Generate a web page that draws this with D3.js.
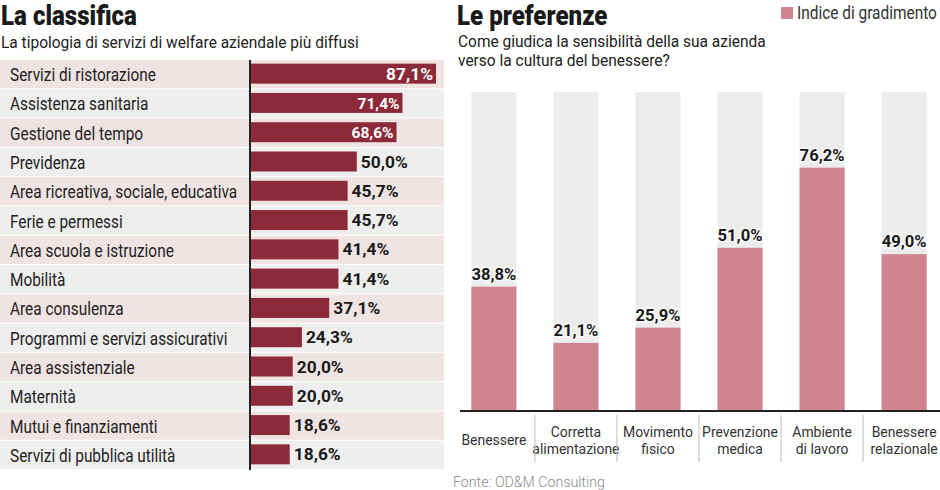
<!DOCTYPE html>
<html>
<head>
<meta charset="utf-8">
<script src="https://cdn.jsdelivr.net/npm/d3@7"></script>
<style>
  html, body { margin: 0; padding: 0; background: #ffffff; }
  svg { display: block; }
  text { font-family: 'Roboto', 'Liberation Sans', sans-serif; }
</style>
</head>
<body>
<svg id="chart" width="940" height="490"></svg>
<script>
// ---------- Data ----------
const classificaCategories = [
  "Servizi di ristorazione",
  "Assistenza sanitaria",
  "Gestione del tempo",
  "Previdenza",
  "Area ricreativa, sociale, educativa",
  "Ferie e permessi",
  "Area scuola e istruzione",
  "Mobilità",
  "Area consulenza",
  "Programmi e servizi assicurativi",
  "Area assistenziale",
  "Maternità",
  "Mutui e finanziamenti",
  "Servizi di pubblica utilità"
];
const classificaValues = [87.1, 71.4, 68.6, 50.0, 45.7, 45.7, 41.4, 41.4, 37.1, 24.3, 20.0, 20.0, 18.6, 18.6];

const preferenzeCategories = [
  ["Benessere"],
  ["Corretta", "alimentazione"],
  ["Movimento", "fisico"],
  ["Prevenzione", "medica"],
  ["Ambiente", "di lavoro"],
  ["Benessere", "relazionale"]
];
const preferenzeValues = [38.8, 21.1, 25.9, 51.0, 76.2, 49.0];
const preferenzeMax = 100;

const legendLabel = "Indice di gradimento";

// ---------- Setup ----------
const svg = d3.select("#chart");
const it = d3.formatLocale({ decimal: ",", thousands: ".", grouping: [3], currency: ["€", ""] });
const fmt = v => it.format(".1f")(v) + "%";

// measure a sample string in a given style and return horizontal condensing factor
function calib(sample, size, weight, target) {
  const t = svg.append("text").style("font-size", size + "px").style("font-weight", weight).text(sample);
  const w = t.node().getComputedTextLength();
  t.remove();
  return target / w;
}
const S = {
  title:  { size: 28,   weight: 900, k: 0 },
  sub:    { size: 17,   weight: 400, k: 0 },
  row:    { size: 18,   weight: 400, k: 0 },
  num:    { size: 17,   weight: 700, k: 0 },
  numSm:  { size: 15.5, weight: 700, k: 0 },
  numR:   { size: 16.5, weight: 700, k: 0 },
  cat:    { size: 15.5, weight: 400, k: 0 },
  legend: { size: 18,   weight: 400, k: 0 },
  src:    { size: 15,   weight: 300, k: 0 }
};
S.title.k  = calib("La classifica", S.title.size, S.title.weight, 136);
S.sub.k    = calib("Come giudica la sensibilità della sua azienda", S.sub.size, S.sub.weight, 308);
S.row.k    = calib("Servizi di ristorazione", S.row.size, S.row.weight, 146);
S.num.k    = calib("50,0%", S.num.size, S.num.weight, 47);
S.numSm.k  = calib("71,4%", S.numSm.size, S.numSm.weight, 42);
S.numR.k   = calib("38,8%", S.numR.size, S.numR.weight, 45);
S.cat.k    = calib("Benessere", S.cat.size, S.cat.weight, 65);
S.legend.k = calib(legendLabel, S.legend.size, S.legend.weight, 140);
S.src.k    = calib("Fonte: OD&M Consulting", S.src.size, S.src.weight, 152);

function txt(parent, x, y, str, st, fill, anchor) {
  return parent.append("text")
    .attr("transform", `translate(${x},${y}) scale(${st.k},1)`)
    .attr("text-anchor", anchor || "start")
    .style("font-size", st.size + "px")
    .style("font-weight", st.weight)
    .attr("fill", fill)
    .text(str);
}

// ---------- Left: La classifica ----------
const left = svg.append("g");
txt(left, 1, 25, "La classifica", S.title, "#1a1a1a");
txt(left, 1, 48, "La tipologia di servizi di welfare aziendale più diffusi", S.sub, "#222");

const yRow = d3.scaleBand().domain(classificaCategories).range([60, 470]).padding(0);
const xL = d3.scaleLinear().domain([0, 100]).range([250, 250 + 213.6]);
const rowData = classificaCategories.map((c, i) => ({ c, v: classificaValues[i], i }));

const rows = left.selectAll("g.row").data(rowData).join("g").attr("class", "row");

rows.append("rect")
  .attr("x", 0).attr("width", 444)
  .attr("y", d => yRow(d.c)).attr("height", yRow.bandwidth() - 1)
  .attr("fill", d => d.i % 2 === 0 ? "#efe4e2" : "#efeeee");

rows.each(function (d) {
  txt(d3.select(this), 10, yRow(d.c) + yRow.bandwidth() / 2 + 6.5, d.c, S.row, "#222");
});

const barH = 20;
rows.append("rect")
  .attr("x", xL(0))
  .attr("y", d => yRow(d.c) + yRow.bandwidth() / 2 - barH / 2 - 1)
  .attr("height", barH)
  .attr("width", d => xL(d.v) - xL(0))
  .attr("fill", "#8d2a3a");

rows.each(function (d) {
  const inside = d.v > 60;
  const st = inside && d.i > 0 ? S.numSm : S.num;
  txt(d3.select(this), inside ? xL(d.v) - 3 : xL(d.v) + 4,
      yRow(d.c) + yRow.bandwidth() / 2 + 5, fmt(d.v), st,
      inside ? "#ffffff" : "#1a1a1a", inside ? "end" : "start");
});

left.append("line")
  .attr("x1", xL(0)).attr("x2", xL(0))
  .attr("y1", 60).attr("y2", 470)
  .attr("stroke", "#222").attr("stroke-width", 2);

// ---------- Right: Le preferenze ----------
const right = svg.append("g");
txt(right, 457, 25, "Le preferenze", S.title, "#1a1a1a");
txt(right, 458, 47, "Come giudica la sensibilità della sua azienda", S.sub, "#222");
txt(right, 458, 66, "verso la cultura del benessere?", S.sub, "#222");

// legend
right.append("rect").attr("x", 781).attr("y", 7).attr("width", 12).attr("height", 12).attr("fill", "#d0848f");
txt(right, 797, 19, legendLabel, S.legend, "#333");

const catKeys = preferenzeCategories.map(d => d.join(" "));
const xR = d3.scaleBand().domain(catKeys).range([459, 939]).paddingInner(0.45).paddingOuter(0.15);
const yR = d3.scaleLinear().domain([0, preferenzeMax]).range([410, 92]);
const colData = preferenzeCategories.map((c, i) => ({ c, k: catKeys[i], v: preferenzeValues[i], i }));

const cols = right.selectAll("g.col").data(colData).join("g").attr("class", "col");

cols.append("rect")
  .attr("x", d => xR(d.k)).attr("width", xR.bandwidth())
  .attr("y", yR(preferenzeMax)).attr("height", yR(0) - yR(preferenzeMax))
  .attr("fill", "#ececec");

cols.append("rect")
  .attr("x", d => xR(d.k)).attr("width", xR.bandwidth())
  .attr("y", d => yR(d.v)).attr("height", d => yR(0) - yR(d.v))
  .attr("fill", "#d0848f");

cols.each(function (d) {
  const g = d3.select(this);
  const cx = xR(d.k) + xR.bandwidth() / 2;
  txt(g, cx, yR(d.v) - 7, fmt(d.v), S.numR, "#1a1a1a", "middle")
    .attr("stroke", "#ffffff").attr("stroke-width", 3).attr("stroke-opacity", 0.8)
    .style("paint-order", "stroke");
  const baseY = d.c.length === 1 ? [445] : [436.5, 454];
  d.c.forEach((t, j) => txt(g, cx, baseY[j], t, S.cat, "#333", "middle"));
});

// separators between category labels
catKeys.slice(1).forEach((k) => {
  const sx = xR(k) - (xR.step() - xR.bandwidth()) / 2;
  right.append("line")
    .attr("x1", sx).attr("x2", sx)
    .attr("y1", 415).attr("y2", 462)
    .attr("stroke", "#bdbdbd").attr("stroke-width", 1);
});

// baseline
right.append("line")
  .attr("x1", 460).attr("x2", 940)
  .attr("y1", yR(0) + 1).attr("y2", yR(0) + 1)
  .attr("stroke", "#222").attr("stroke-width", 2);

// source
txt(svg, 453, 487, "Fonte: OD&M Consulting", S.src, "#8a8a8a");
</script>
</body>
</html>
